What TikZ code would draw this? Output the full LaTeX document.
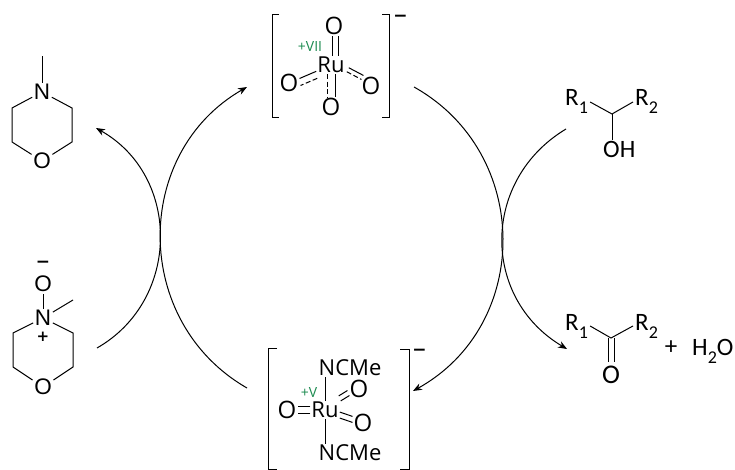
\documentclass[tikz,border=0pt]{standalone}
\usepackage{fontspec}
\usepackage{xcolor}
\usetikzlibrary{arrows.meta,positioning}
\newfontfamily\atomfam{Open Sans}
\newfontfamily\ringfam{Liberation Sans}
\newfontfamily\grpfam{Carlito}
\newfontfamily\chgfam{DejaVu Sans}
\definecolor{oxgreen}{HTML}{1B8A4F}
\newcommand{\sbs}[1]{\raisebox{-8pt}{\fontsize{18}{18}\selectfont #1}}
\begin{document}
\begin{tikzpicture}[
  x=1pt, y=-1pt,
  atom/.style={inner sep=1pt, font=\atomfam\fontsize{22}{22}\selectfont},
  oxo/.style={inner sep=1pt, font=\atomfam\fontsize{24}{24}\selectfont},
  ring/.style={inner sep=1.5pt, font=\ringfam\fontsize{22.5}{22.5}\selectfont},
  grp/.style={inner sep=2pt, anchor=base west, font=\grpfam\fontsize{25}{25}\selectfont},
  ox/.style={inner sep=0pt, text=oxgreen, font=\atomfam\fontsize{14}{14}\selectfont},
  chg/.style={inner sep=0pt, font=\chgfam\bfseries\fontsize{17}{17}\selectfont},
  bond/.style={line width=1pt},
  wbond/.style={bond, dash pattern=on 5pt off 2.5pt},
  brk/.style={line width=1pt},
  arr/.style={line width=1pt, -{Stealth[length=9pt,width=7pt]}},
]
\useasboundingbox (0,0) rectangle (735,470);

% Ru(VII) complex
\node[atom] (ru7) at (331,65) {Ru};
\node[oxo] (o7t) at (334,26) {O};
\node[oxo] (o7l) at (289,83) {O};
\node[oxo] (o7r) at (371,86) {O};
\node[oxo] (o7b) at (331,107) {O};
\node[ox] (ox7) at (310,47) {+VII};
\draw[brk] (279,15) -| (272,118) -- (279,118);
\draw[brk] (382,15) -| (389,118) -- (382,118);
\node[chg] (chg7) at (400.5,18) {−};
\draw[bond] ([xshift=1pt]ru7.north) -- ([xshift=-2pt]o7t.south);
\draw[bond] ([xshift=7pt]ru7.north) -- ([xshift=4pt]o7t.south);
\draw[bond] ([xshift=4pt]ru7.south) -- ([xshift=4pt]o7b.north);
\draw[wbond] ([xshift=-4pt]ru7.south) -- ([xshift=-4pt]o7b.north);
\draw[bond] (ru7) -- (o7l);
\draw[wbond, transform canvas={xshift=1pt,yshift=-7pt}] (ru7) -- (o7l);
\draw[bond, transform canvas={xshift=3pt,yshift=5pt}] (ru7) -- (o7r);
\draw[wbond, transform canvas={xshift=1pt,yshift=1pt}] (ru7) -- (o7r);

% Ru(V) complex
\node[atom] (ru5) at (325,410) {Ru};
\node[atom] (ncmet) at (350,368) {NCMe};
\node[atom] (ncmeb) at (350,453) {NCMe};
\node[oxo] (o5l) at (287,410) {O};
\node[oxo] (o5u) at (359,389) {O};
\node[oxo] (o5d) at (363,423) {O};
\node[ox] (ox5) at (309,392) {+V};
\draw[brk] (277,348) -| (268,469) -- (277,469);
\draw[brk] (400,349) -| (409,469) -- (400,469);
\node[chg] (chg5) at (419.5,352) {−};
\draw[bond] (ru5.north) -- (ru5 |- ncmet.south);
\draw[bond] (ru5.south) -- (ru5 |- ncmeb.north);
\draw[bond, transform canvas={yshift=3.5pt}] (ru5) -- (o5l);
\draw[bond, transform canvas={yshift=-3.5pt}] (ru5) -- (o5l);
\draw[bond, transform canvas={xshift=-1pt,yshift=5pt}] (ru5) -- (o5u);
\draw[bond, transform canvas={xshift=1pt}] (ru5) -- (o5u);
\draw[bond, transform canvas={yshift=3pt}] (ru5) -- (o5d);
\draw[bond, transform canvas={yshift=-3pt}] (ru5) -- (o5d);

% NMM
\node[ring] (n1) at (42,92) {N};
\node[ring] (o1) at (42,161) {O};
\coordinate (me1) at (42,56);
\coordinate (a1) at (12,108);
\coordinate (b1) at (12,142);
\coordinate (c1) at (72,108);
\coordinate (d1) at (72,142);
\draw[bond] (n1) -- (me1);
\draw[bond] (n1) -- (a1) -- (b1) -- (o1) -- (d1) -- (c1) -- (n1);

% NMO
\node[ring] (n2) at (43,318) {N};
\node[ring] (o2) at (43,387) {O};
\node[ring] (o3) at (43,284) {O};
\node[chg] (chg3) at (43,264) {−};
\node[chg, font=\chgfam\bfseries\fontsize{15}{15}\selectfont] (pl2) at (43,337) {+};
\coordinate (me2) at (73,300);
\coordinate (a2) at (13,333);
\coordinate (b2) at (13,367);
\coordinate (c2) at (73,333);
\coordinate (d2) at (73,367);
\draw[bond] (n2) -- (o3);
\draw[bond] (n2) -- (me2);
\draw[bond] (n2) -- (a2) -- (b2) -- (o2) -- (d2) -- (c2) -- (n2);

% alcohol
\node[grp] (r1a) at (563,106) {R\sbs{1}};
\node[grp] (r2a) at (633,106) {R\sbs{2}};
\node[grp] (oh) at (601,158) {OH};
\coordinate (ca) at (612,114);
\draw[bond] (r1a.east) -- (ca) -- (r2a.west);
\draw[bond] (ca) -- (ca |- oh.north);

% ketone and water
\node[atom, inner sep=2pt, font=\grpfam\fontsize{27}{27}\selectfont] (ok) at (611,375) {O};
\node[grp] (r1k) at (563,330) {R\sbs{1}};
\node[grp] (r2k) at (633,330) {R\sbs{2}};
\coordinate (ck) at (611,338);
\node[atom, font=\grpfam\fontsize{25}{25}\selectfont] (plus) at (671,348) {+};
\node[grp] (water) at (690,355) {H\sbs{2}O};
\draw[bond] (r1k.east) -- (ck) -- (r2k.west);
\draw[bond] ([xshift=-3pt]ck) -- ([xshift=-3pt,yshift=1.5pt]ok.north);
\draw[bond] ([xshift=3pt]ck) -- ([xshift=3pt,yshift=1.5pt]ok.north);

% cycle
\coordinate (l1) at (247,388);
\coordinate (l2) at (247,87);
\coordinate (l3) at (97,348);
\coordinate (l4) at (96,128);
\coordinate (r1) at (414,87);
\coordinate (r2) at (413,391);
\coordinate (r3) at (566,129);
\coordinate (r4) at (567,349);
\draw[arr] (l1) .. controls (132,322) and (132,153) .. (l2);
\draw[arr] (l3) .. controls (181,300) and (181,176) .. (l4);
\draw[arr] (r1) .. controls (532,153) and (532,325) .. (r2);
\draw[arr] (r3) .. controls (481,180) and (481,298) .. (r4);
\end{tikzpicture}
\end{document}
